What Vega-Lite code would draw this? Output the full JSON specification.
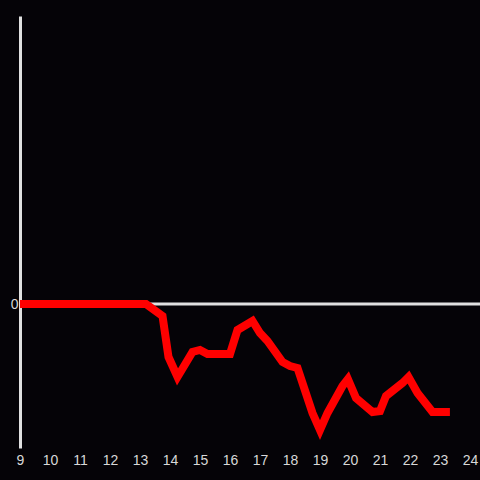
{
  "$schema": "https://vega.github.io/schema/vega-lite/v6.json",
  "width": 460,
  "height": 432,
  "padding": {"left": 20, "top": 16, "right": 0, "bottom": 32},
  "autosize": {"type": "none"},
  "background": "#050307",
  "config": {
    "view": {"stroke": null},
    "axis": {"labelFont": "Liberation Sans", "labelFontSize": 14, "labelColor": "#d8d8d8", "grid": false, "ticks": false, "title": null}
  },
  "datasets": {
    "series": [
      {"hour": 9, "value": 0},
      {"hour": 13.2, "value": 0},
      {"hour": 13.75, "value": -12},
      {"hour": 13.95, "value": -53},
      {"hour": 14.25, "value": -73},
      {"hour": 14.75, "value": -48},
      {"hour": 15.0, "value": -46},
      {"hour": 15.25, "value": -50},
      {"hour": 16.0, "value": -50},
      {"hour": 16.25, "value": -26},
      {"hour": 16.75, "value": -17},
      {"hour": 17.0, "value": -29},
      {"hour": 17.25, "value": -37},
      {"hour": 17.75, "value": -58},
      {"hour": 18.0, "value": -62},
      {"hour": 18.25, "value": -64},
      {"hour": 18.75, "value": -109},
      {"hour": 19.0, "value": -126},
      {"hour": 19.25, "value": -109},
      {"hour": 19.75, "value": -82},
      {"hour": 19.93, "value": -75},
      {"hour": 20.2, "value": -94},
      {"hour": 20.75, "value": -108},
      {"hour": 21.0, "value": -107},
      {"hour": 21.2, "value": -92},
      {"hour": 21.75, "value": -79},
      {"hour": 21.95, "value": -73},
      {"hour": 22.25, "value": -89},
      {"hour": 22.75, "value": -108},
      {"hour": 23.33, "value": -108}
    ],
    "zero": [{"value": 0}]
  },
  "layer": [
    {
      "data": {"name": "zero"},
      "mark": {"type": "rule", "color": "#e0e0e0", "strokeWidth": 3},
      "encoding": {
        "y": {"field": "value", "type": "quantitative", "scale": {"domain": [-144, 288]}}
      }
    },
    {
      "data": {"name": "series"},
      "mark": {"type": "line", "color": "#ff0000", "strokeWidth": 8, "strokeCap": "butt", "clip": true},
      "encoding": {
        "x": {
          "field": "hour", "type": "quantitative",
          "scale": {"domain": [9, 24.333], "nice": false, "zero": false},
          "axis": {"values": [9,10,11,12,13,14,15,16,17,18,19,20,21,22,23,24], "domain": false, "labelPadding": 5, "labelFlush": false}
        },
        "y": {
          "field": "value", "type": "quantitative",
          "scale": {"domain": [-144, 288], "nice": false, "zero": false},
          "axis": {"values": [0], "domain": true, "domainColor": "#e0e0e0", "domainWidth": 3, "labelPadding": 2}
        }
      }
    }
  ]
}
